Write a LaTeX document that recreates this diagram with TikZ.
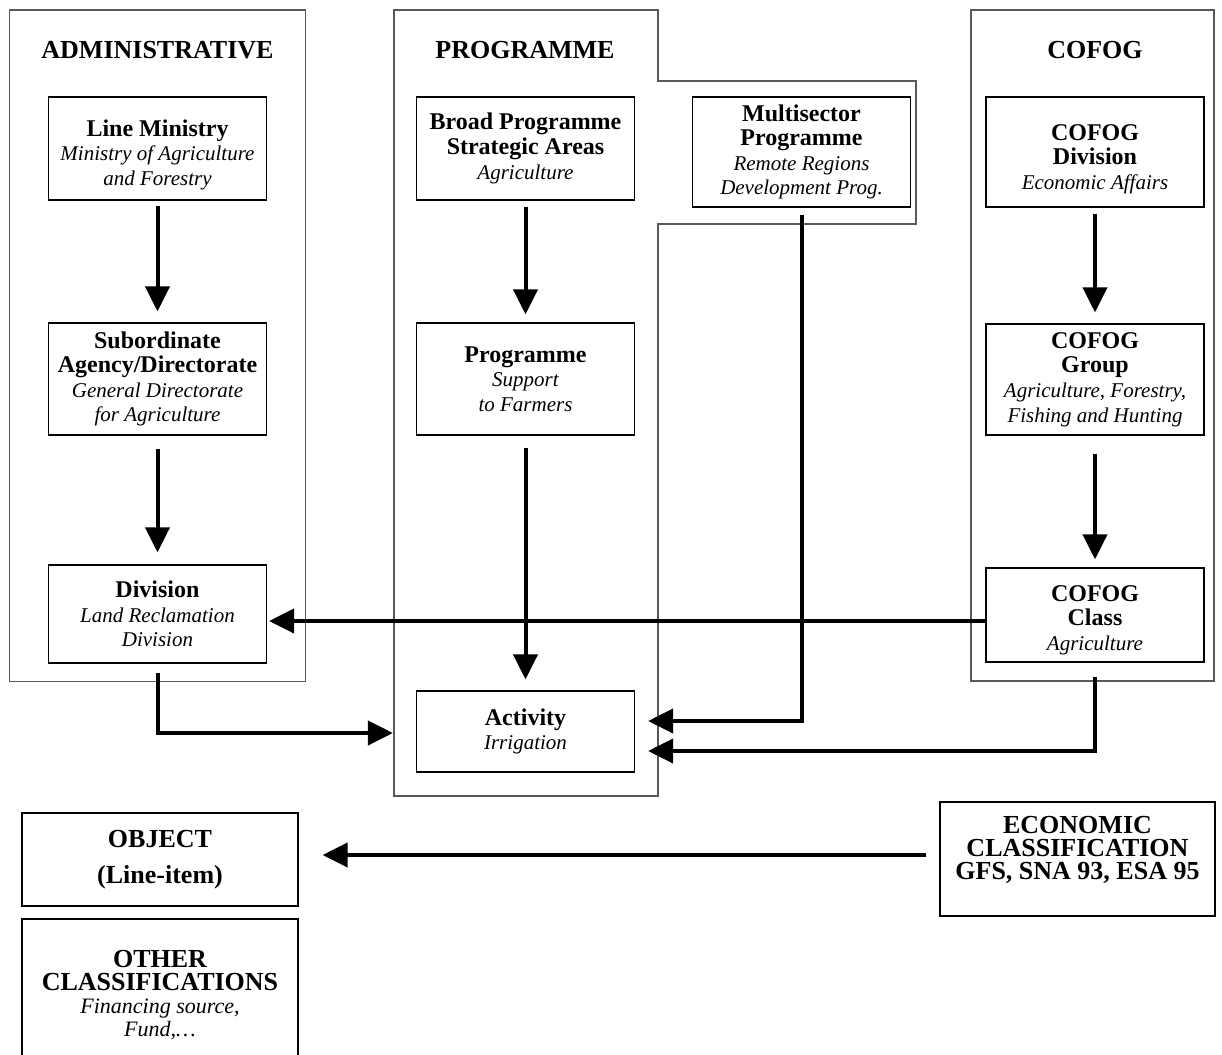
\documentclass[tikz,border=0pt]{standalone}
\usepackage{fontspec}
\setmainfont{Liberation Serif}
\usetikzlibrary{arrows.meta,positioning}
\newcommand\hd[1]{{\fontsize{12}{12}\selectfont\bfseries #1}}
\newcommand\sub[1]{{\fontsize{10.5}{12}\selectfont\itshape #1}}
\newcommand\bigsub[1]{{\fontsize{11}{11.5}\selectfont\mdseries\itshape #1}}
\tikzset{
  box/.style={
    draw,
    line width=.6pt,
    align=center,
    minimum width=109pt,
    inner sep=0pt,
    font=\fontsize{11}{12.3}\selectfont
  },
  bigbox/.style={
    draw,
    line width=.6pt,
    align=center,
    minimum width=138pt,
    inner sep=0pt,
    font=\fontsize{13}{11.5}\selectfont\bfseries
  },
  title/.style={font=\fontsize{13}{13}\selectfont\bfseries},
  group/.style={draw=black!65, line width=.6pt},
  arrow/.style={-{Triangle[length=12.5pt,width=12pt]}, line width=2pt}
}

\begin{document}
\begin{tikzpicture}[x=0.5pt, y=-0.5pt]
\useasboundingbox (0,0) rectangle (1222,1055);
\clip (0,0) rectangle (1222,1055);

% --- Grouping frames
\draw[group] (9.5,10) rectangle (305.5,681.5);
\draw[group] (394,10) -- (658,10) -- (658,81) -- (916,81) -- (916,224)
  -- (658,224) -- (658,796) -- (394,796) -- cycle;
\draw[group] (971,10) rectangle (1214,681);

\node[title] (admtitle) at (157.5,50) {ADMINISTRATIVE};
\node[title] (progtitle) at (525,50) {PROGRAMME};
\node[title] (coftitle) at (1095,50) {COFOG};

% --- Administrative column
\node[box, minimum height=51.5pt, text height=39pt] (line) at (157.5,148.5)
  {\hd{Line Ministry}\\\sub{Ministry of Agriculture}\\\sub{and Forestry}};
\node[box, minimum height=56pt] (subord) at (157.5,379)
  {\hd{Subordinate}\\\hd{Agency/Directorate}\\\sub{General Directorate}\\\sub{for Agriculture}};
\node[box, minimum height=49pt] (divn) at (157.5,614)
  {\hd{Division}\\\sub{Land Reclamation}\\\sub{Division}};

% --- Programme column
\node[box, minimum height=51.5pt] (broad) at (525.5,148.5)
  {\hd{Broad Programme}\\\hd{Strategic Areas}\\\sub{Agriculture}};
\node[box, minimum height=55pt] (multi) at (801.5,152)
  {\hd{Multisector}\\\hd{Programme}\\\sub{Remote Regions}\\\sub{Development Prog.}};
\node[box, minimum height=56pt] (prog) at (525.5,379)
  {\hd{Programme}\\\sub{Support}\\\sub{to Farmers}};
\node[box, minimum height=40.5pt] (activity) at (525.5,731.5)
  {\hd{Activity}\\\sub{Irrigation}};

% --- COFOG column
\node[box, minimum height=55pt, text height=39.5pt] (cdiv) at (1095,152)
  {\hd{COFOG}\\\hd{Division}\\\sub{Economic Affairs}};
\node[box, minimum height=55.5pt] (cgroup) at (1095,379.5)
  {\hd{COFOG}\\\hd{Group}\\\sub{Agriculture, Forestry,}\\\sub{Fishing and Hunting}};
\node[box, minimum height=47pt, text height=37.5pt] (cclass) at (1095,615)
  {\hd{COFOG}\\\hd{Class}\\\sub{Agriculture}};

% --- Other classifications
\node[bigbox, minimum height=46.5pt] (object) at (160,859.5)
  {OBJECT\\[6.5pt](Line-item)};
\node[bigbox, minimum height=76pt] (other) at (160,995)
  {OTHER\\CLASSIFICATIONS\\\bigsub{Financing source,}\\\bigsub{Fund,\dots}};
\node[bigbox, minimum width=137.5pt, minimum height=57pt, text depth=11pt] (econ) at (1077.5,859)
  {ECONOMIC\\CLASSIFICATION\\GFS, SNA 93, ESA 95};

% --- Arrows
\draw[arrow, shorten <=2.5pt, shorten >=5.5pt] (line) -- (subord);
\draw[arrow, shorten <=6.5pt, shorten >=6pt] (subord) -- (divn);
\draw[arrow, shorten <=3pt, shorten >=4pt] (broad) -- (prog);
\draw[arrow, shorten <=6pt, shorten >=5.5pt] (prog) -- (activity);
\draw[arrow, shorten <=3pt, shorten >=5.5pt] (cdiv) -- (cgroup);
\draw[arrow, shorten <=9pt, shorten >=4pt] (cgroup) -- (cclass);
\draw[arrow, shorten >=1pt] ([yshift=-3pt]cclass.west) -- ([yshift=-3pt]cclass.west -| divn.east);
\draw[arrow, shorten <=3.5pt, shorten >=6.5pt] (multi.south) |- ([yshift=5.25pt]activity.east);
\draw[arrow, shorten <=7pt, shorten >=6.5pt] (cclass.south) |- ([yshift=-9.75pt]activity.east);
\draw[arrow, shorten <=4.5pt, shorten >=11.5pt] (divn.south) |- ([yshift=-0.75pt]activity.west);
\draw[arrow, shorten <=6.5pt, shorten >=12pt] ([yshift=2pt]econ.west) -- ([yshift=2pt]econ.west -| object.east);

\end{tikzpicture}
\end{document}
